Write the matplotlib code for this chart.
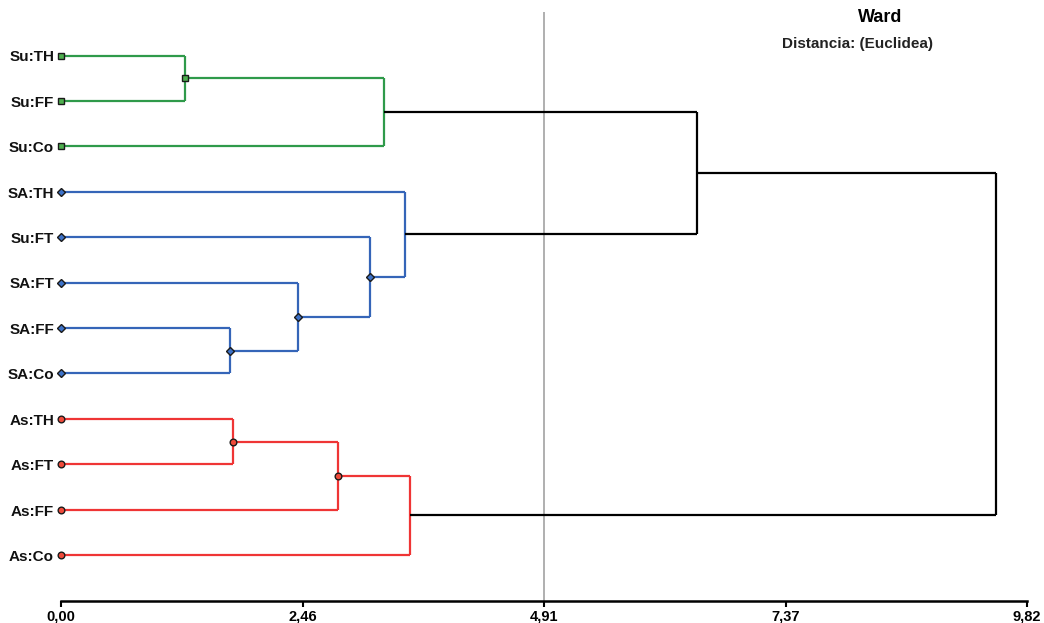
import matplotlib
matplotlib.use("Agg")
import matplotlib.pyplot as plt

plt.rcParams['font.family'] = ['Liberation Sans', 'DejaVu Sans']

# leaves, top to bottom
labels = ["Su:TH", "Su:FF", "Su:Co", "SA:TH", "Su:FT", "SA:FT",
          "SA:FF", "SA:Co", "As:TH", "As:FT", "As:FF", "As:Co"]
groups = ["Su", "Su", "Su", "SA", "SA", "SA", "SA", "SA", "As", "As", "As", "As"]

# merges: (child a, child b, height); new nodes numbered from 12
merge_a = [0, 12, 6, 5, 4, 3, 8, 18, 19, 13, 21]
merge_b = [1, 2, 7, 14, 15, 16, 9, 10, 11, 17, 20]
heights = [1.26, 3.28, 1.72, 2.41, 3.14, 3.50, 1.75, 2.82, 3.55, 6.47, 9.50]

cut_height = 4.91
tick_vals = [0.0, 2.455, 4.91, 7.365, 9.82]
tick_labels = ["0,00", "2,46", "4,91", "7,37", "9,82"]

group_color = {"Su": "#2f9a4a", "SA": "#3565b8", "As": "#ef3535"}
group_fill = {"Su": "#4fb04f", "SA": "#3d72c8", "As": "#ef4a3a"}
group_marker = {"Su": "s", "SA": "D", "As": "o"}
group_msize = {"Su": 5.0, "SA": 4.2, "As": 4.8}

fig = plt.figure(figsize=(10.44, 6.23), dpi=100)
ax = fig.add_axes([61 / 1044, 22 / 623, 966 / 1044, 589 / 623])

n = len(labels)
ypos = {i: float(i) for i in range(n)}
xpos = {i: 0.0 for i in range(n)}
grp = {i: groups[i] for i in range(n)}
parent = {}

for k, (a, b, h) in enumerate(zip(merge_a, merge_b, heights)):
    node = n + k
    parent[a] = node
    parent[b] = node
    g = grp[a] if grp[a] == grp[b] else None
    grp[node] = g
    col = group_color[g] if g else "black"
    ya, yb = ypos[a], ypos[b]
    ax.plot([h, h], [ya, yb], color=col, lw=1.6, solid_capstyle="butt", zorder=2)
    for c in (a, b):
        ax.plot([xpos[c], h], [ypos[c], ypos[c]], color=col, lw=1.6,
                solid_capstyle="butt", zorder=2)
    ypos[node] = (ya + yb) / 2
    xpos[node] = h

# markers on leaves and on inner nodes whose parent keeps the group
for node in xpos:
    g = grp[node]
    if g is None:
        continue
    if node >= n and (node not in parent or grp[parent[node]] != g):
        continue
    ax.plot(xpos[node], ypos[node], marker=group_marker[g],
            markersize=group_msize[g], markerfacecolor=group_fill[g],
            markeredgecolor="#1a1a1a", markeredgewidth=1.0, zorder=4,
            clip_on=False)

for i, lab in enumerate(labels):
    ax.text(-0.07, i + 0.04, lab, ha="right", va="center", fontsize=11,
            fontweight="bold", color="#111111")

ax.axvline(cut_height, color="#9a9a9a", lw=1.1, zorder=1)

ax.set_xlim(0, 9.82)
ax.set_ylim(12.01, -0.96)
for s in ["top", "right", "left"]:
    ax.spines[s].set_visible(False)
ax.spines["bottom"].set_linewidth(1.8)
ax.set_yticks([])
ax.set_xticks(tick_vals)
ax.set_xticklabels(tick_labels, fontsize=10.5, fontweight="bold")
ax.tick_params(axis="x", length=4, width=1.5, pad=2)

fig.text(880 / 1044, 1 - 17 / 623, "Ward", ha="center", va="center",
         fontsize=13, fontweight="bold")
fig.text(858 / 1044, 1 - 44 / 623, "Distancia: (Euclidea)", ha="center",
         va="center", fontsize=11, fontweight="bold", color="#222222")

fig.savefig("out.png", dpi=100)
